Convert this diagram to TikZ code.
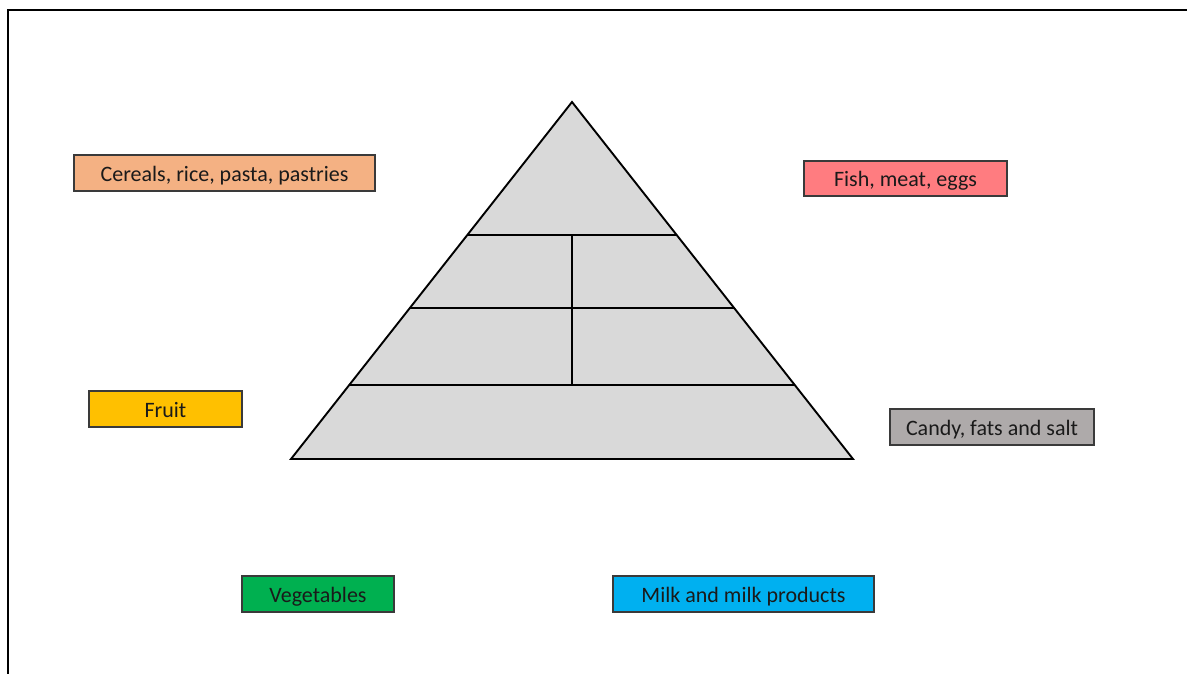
\documentclass[tikz,border=0pt]{standalone}
\usepackage{fontspec}
\setmainfont{Carlito}
\definecolor{cereal}{HTML}{F4B183}
\definecolor{fishc}{HTML}{FF7C80}
\definecolor{fruitc}{HTML}{FFC000}
\definecolor{candyc}{HTML}{AEAAAA}
\definecolor{vegc}{HTML}{00B050}
\definecolor{milkc}{HTML}{00B0F0}
\definecolor{pyr}{HTML}{D9D9D9}
\definecolor{edgec}{HTML}{3A3A3A}
\definecolor{txt}{HTML}{1A1A1A}
\tikzset{
  label box/.style={draw=edgec, line width=1.3pt, rectangle, inner sep=0pt,
    minimum height=36pt, text height=17pt, text depth=0pt, text=txt,
    font=\fontsize{22}{26}\selectfont},
  pyr line/.style={draw=black, line width=1.9pt, line join=miter},
}
\begin{document}
\begin{tikzpicture}[x=1pt,y=-1pt]
\useasboundingbox (0,0) rectangle (1187,674);
\fill[white] (0,0) rectangle (1187,674);
% frame
\coordinate (fbl) at (8,676);
\coordinate (ftl) at (8,10);
\coordinate (ftr) at (1189,10);
\draw[line width=2pt] (fbl) -- (ftl) -- (ftr);
% pyramid
\coordinate (apex) at (572,102);
\coordinate (bl) at (291,459);
\coordinate (br) at (853,459);
\coordinate (l1) at (467.3,235); \coordinate (r1) at (676.7,235);
\coordinate (l2) at (409.9,308); \coordinate (r2) at (734.1,308);
\coordinate (l3) at (349.3,385); \coordinate (r3) at (794.7,385);
\coordinate (m1) at (572,235); \coordinate (m3) at (572,385);
\filldraw[fill=pyr, pyr line] (apex) -- (br) -- (bl) -- cycle;
\draw[pyr line] (l1) -- (r1);
\draw[pyr line] (l2) -- (r2);
\draw[pyr line] (l3) -- (r3);
\draw[pyr line] (m1) -- (m3);
% labels
\node[label box, fill=cereal, minimum width=301pt] (cereals) at (224.5,173) {Cereals, rice, pasta, pastries};
\node[label box, fill=fishc, minimum width=203pt, minimum height=35pt] (fish) at (905.5,178.5) {Fish, meat, eggs};
\node[label box, fill=fruitc, minimum width=153pt] (fruit) at (165.5,409) {Fruit};
\node[label box, fill=candyc, minimum width=204pt] (candy) at (992,427) {Candy, fats and salt};
\node[label box, fill=vegc, minimum width=152pt] (veg) at (318,594) {Vegetables};
\node[label box, fill=milkc, minimum width=261pt] (milk) at (743.5,594) {Milk and milk products};
\end{tikzpicture}
\end{document}
